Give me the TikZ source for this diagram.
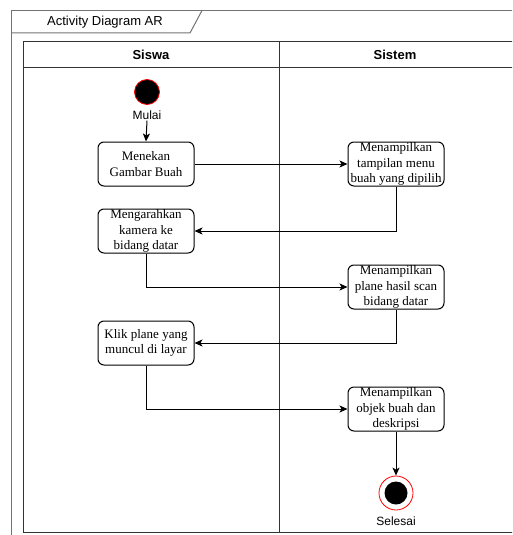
\documentclass[tikz,border=0pt]{standalone}
\usepackage{fontspec}
\setmainfont{Liberation Serif}
\setsansfont{Liberation Sans}
\usetikzlibrary{arrows.meta}

\begin{document}
\begin{tikzpicture}[x=1pt, y=-1pt,
    nodeAct/.style={rectangle, rounded corners=6pt, draw=black, line width=1pt, fill=white, minimum width=96pt, minimum height=44pt, inner sep=0pt, align=center, font=\fontsize{13}{15.5}\selectfont},
    nodeStart/.style={circle, draw=red, fill=black, line width=0.8pt, minimum size=25pt, inner sep=0pt},
    nodeEnd/.style={circle, draw=red, fill=white, line width=0.8pt, minimum size=34pt, inner sep=0pt},
    nodeEndIn/.style={circle, fill=black, minimum size=23pt, inner sep=0pt},
    label/.style={font=\sffamily\fontsize{12}{14}\selectfont, inner sep=1pt},
    lane/.style={font=\sffamily\bfseries\fontsize{13}{15}\selectfont},
    flow/.style={draw=black, line width=1pt, -{Stealth[length=8pt, width=7pt, inset=2pt]}}]

    \useasboundingbox (0,0) rectangle (512,535);
    \clip (0,0) rectangle (512,535);

    % Outer frame with title tab
    \draw[black!55, line width=1pt] (11.5,540) -- (11.5,10.5) -- (520,10.5);
    \draw[black!55, line width=1pt] (11.5,33) -- (190,33) -- (202,10.5);
    \node[font=\sffamily\fontsize{13}{15}\selectfont] (judul) at (105,22) {Activity Diagram AR};

    % Pool and lanes
    \draw[black!80, line width=1pt] (23,42) rectangle (520,532);
    \draw[black!80, line width=1pt] (23,67) -- (520,67);
    \draw[black!80, line width=1pt] (279,42) -- (279,532);
    \node[lane] (siswa) at (151,55) {Siswa};
    \node[lane] (sistem) at (395,55) {Sistem};

    % Lane Siswa
    \node[nodeStart] (mulai) at (147,92) {};
    \node[label] (mulaiText) at (147,115) {Mulai};
    \node[nodeAct] (menekan) at (146,164) {Menekan\\Gambar Buah};
    \node[nodeAct] (arahkan) at (146,231) {Mengarahkan\\kamera ke\\bidang datar};
    \node[nodeAct] (klik) at (146,343) {Klik plane yang\\muncul di layar};

    % Lane Sistem
    \node[nodeAct] (tampilMenu) at (396,164) {Menampilkan\\tampilan menu\\buah yang dipilih};
    \node[nodeAct] (tampilPlane) at (396,287) {Menampilkan\\plane hasil scan\\bidang datar};
    \node[nodeAct] (tampilObjek) at (396,409) {Menampilkan\\objek buah dan\\deskripsi};
    \node[nodeEnd] (selesai) at (396,493) {};
    \node[nodeEndIn] at (selesai) {};
    \node[label] (selesaiText) at (396,521) {Selesai};

    % Flow
    \draw[flow] (mulaiText.south) -- (menekan.north);
    \draw[flow] (menekan.east) -- (tampilMenu.west);
    \draw[flow] (tampilMenu.south) |- (arahkan.east);
    \draw[flow] (arahkan.south) |- (tampilPlane.west);
    \draw[flow] (tampilPlane.south) |- (klik.east);
    \draw[flow] (klik.south) |- (tampilObjek.west);
    \draw[flow] (tampilObjek.south) -- (selesai.north);

\end{tikzpicture}
\end{document}
